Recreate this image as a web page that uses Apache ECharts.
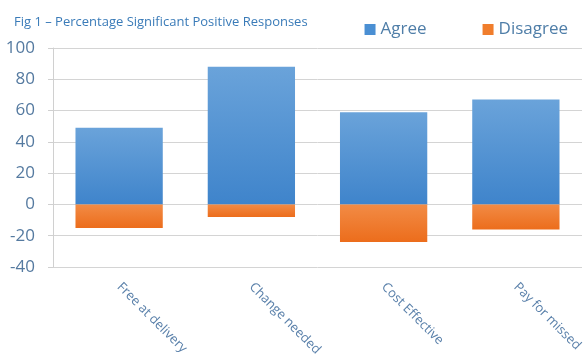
<!DOCTYPE html>
<html><head><meta charset="utf-8">
<script src="https://cdn.jsdelivr.net/npm/echarts@6/dist/echarts.min.js"></script>
<style>html,body{margin:0;padding:0;background:#fff}#c{width:587px;height:360px}</style>
</head><body><div id="c"></div>
<script>
const categories = ["Free at delivery", "Change needed", "Cost Effective", "Pay for missed"];
const agree = [49, 88, 59, 67];
const disagree = [-15, -8, -24, -16];
const yTicks = [-40, -20, 0, 20, 40, 60, 80, 100];

const blue = new echarts.graphic.LinearGradient(0,0,0,1,[{offset:0,color:'#6aa3da'},{offset:1,color:'#3f84cb'}]);
const orange = new echarts.graphic.LinearGradient(0,0,0,1,[{offset:0,color:'#f28b45'},{offset:1,color:'#ec6d1c'}]);
const chart = echarts.init(document.getElementById('c'), null, {renderer:'canvas'});
chart.setOption({
  animation:false,
  title:{text:'Fig 1 \u2013 Percentage Significant Positive Responses',left:9,top:11,
    textStyle:{fontFamily:'Open Sans',fontSize:13,fontWeight:'normal',color:'#3a7bb8'}},
  legend:{right:14,top:16,itemWidth:11,itemHeight:11,itemGap:56,
    textStyle:{fontFamily:'Open Sans',fontSize:17,color:'#4f7ea8'},
    data:[{name:'Agree',icon:'rect',itemStyle:{color:'#4a8fd3'}},{name:'Disagree',icon:'rect',itemStyle:{color:'#f07d2c'}}]},
  grid:{left:53,right:5,top:48,bottom:93,containLabel:false},
  xAxis:{type:'category',data:categories,
    axisLine:{show:false},axisTick:{show:false},
    axisLabel:{rotate:-45,interval:0,margin:18,fontFamily:'Open Sans',fontSize:13,color:'#5a80aa'}},
  yAxis:{type:'value',min:yTicks[0],max:yTicks[yTicks.length-1],interval:20,
    axisLine:{show:true,lineStyle:{color:'#d0d0d0'}},
    axisTick:{show:true,length:5,lineStyle:{color:'#d0d0d0'}},
    splitLine:{lineStyle:{color:'#d4d4d4'}},
    axisLabel:{fontFamily:'Open Sans',fontSize:17,color:'#557aa0',margin:18}},
  series:[
    {name:'Agree',type:'bar',stack:'s',data:agree,barWidth:'66%',itemStyle:{color:blue}},
    {name:'Disagree',type:'bar',stack:'s',data:disagree,barWidth:'66%',itemStyle:{color:orange}}
  ]
});
</script></body></html>
